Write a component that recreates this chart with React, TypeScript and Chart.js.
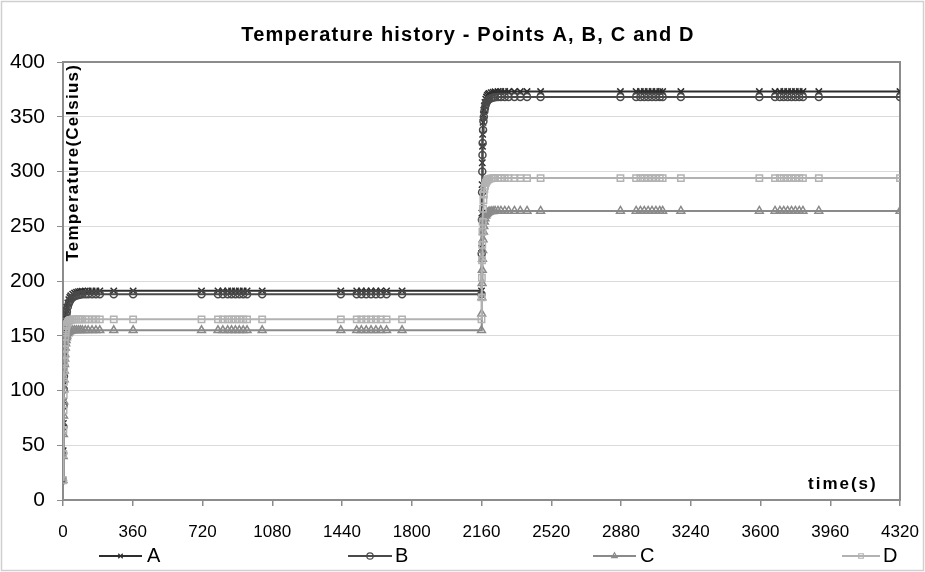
import { useEffect, useRef } from 'react';
import { Chart, registerables } from 'chart.js';
import { drawPoint } from 'chart.js/helpers';

Chart.register(...registerables);

const FONT = '"Liberation Sans", Arial, sans-serif';

const chartTitle = 'Temperature history - Points A, B, C and D';
const yTitle = 'Temperature(Celsius)';
const xTitle = 'time(s)';
const seriesNames = ['A', 'B', 'C', 'D'];

// time (s)
const time = [
  0, 1, 2, 3, 4, 5, 6, 7, 8, 9, 10,
  12, 14, 16, 18, 20,
  25, 30, 35, 40,
  50, 60, 70, 80, 90, 100,
  115, 130, 150, 170, 190,
  262, 362,
  715, 800, 825, 850, 870, 890, 910, 930, 950, 1028,
  1434, 1516, 1540, 1565, 1590, 1615, 1640, 1670, 1750,
  2160,
  2161, 2162, 2163, 2164, 2165, 2166,
  2168, 2170, 2172, 2175, 2178, 2182, 2186, 2190, 2195, 2200,
  2210, 2220, 2230, 2245, 2260, 2280, 2300, 2330, 2360, 2395, 2465,
  2877, 2958, 2980, 3000, 3020, 3040, 3060, 3080, 3095, 3189,
  3594, 3675, 3700, 3720, 3740, 3760, 3780, 3800, 3819, 3901, 4320,
];

const seriesA = [
  18, 45, 70, 90, 105, 117, 127, 135, 142, 148, 153,
  160, 166, 170, 173, 176,
  180, 183, 185, 186.5,
  188, 189, 189.7, 190.2, 190.5, 190.7,
  190.8, 190.9, 191, 191, 191,
  191, 191,
  191, 191, 191, 191, 191, 191, 191, 191, 191, 191,
  191, 191, 191, 191, 191, 191, 191, 191, 191,
  191,
  230, 262, 288, 308, 323, 334,
  345, 352, 356, 360, 363, 366, 368, 369.5, 370.5, 371.3,
  372, 372.5, 372.8, 373, 373, 373, 373, 373, 373, 373, 373,
  373, 373, 373, 373, 373, 373, 373, 373, 373, 373,
  373, 373, 373, 373, 373, 373, 373, 373, 373, 373, 373,
];

const seriesB = [
  18, 43, 67, 86, 101, 113, 123, 131, 138, 144, 149,
  156, 162, 166, 169, 172,
  176.5, 179.5, 181.5, 183,
  185, 186, 186.8, 187.3, 187.6, 187.8,
  187.9, 188, 188, 188, 188,
  188, 188,
  188, 188, 188, 188, 188, 188, 188, 188, 188, 188,
  188, 188, 188, 188, 188, 188, 188, 188, 188,
  188,
  225, 256, 281, 300, 315, 326,
  338, 346, 350, 355, 358, 361, 363, 364.5, 365.5, 366.3,
  367, 367.5, 367.8, 368, 368, 368, 368, 368, 368, 368, 368,
  368, 368, 368, 368, 368, 368, 368, 368, 368, 368,
  368, 368, 368, 368, 368, 368, 368, 368, 368, 368, 368,
];

const seriesC = [
  18, 40, 60, 77, 90, 101, 110, 118, 124, 129, 133,
  139, 143, 146, 148.5, 150,
  152, 153.2, 154, 154.4,
  154.8, 155, 155, 155, 155, 155,
  155, 155, 155, 155, 155,
  155, 155,
  155, 155, 155, 155, 155, 155, 155, 155, 155, 155,
  155, 155, 155, 155, 155, 155, 155, 155, 155,
  155,
  170, 185, 198, 210, 220, 228,
  238, 245, 250, 254, 257, 259.5, 261, 262, 262.8, 263.3,
  263.6, 263.8, 264, 264, 264, 264, 264, 264, 264, 264, 264,
  264, 264, 264, 264, 264, 264, 264, 264, 264, 264,
  264, 264, 264, 264, 264, 264, 264, 264, 264, 264, 264,
];

const seriesD = [
  18, 42, 64, 82, 96, 108, 118, 126, 133, 138, 143,
  149, 153, 156.5, 159, 160.5,
  162.5, 163.6, 164.2, 164.5,
  164.8, 165, 165, 165, 165, 165,
  165, 165, 165, 165, 165,
  165, 165,
  165, 165, 165, 165, 165, 165, 165, 165, 165, 165,
  165, 165, 165, 165, 165, 165, 165, 165, 165,
  165,
  185, 203, 219, 233, 245, 254,
  266, 274, 279, 284, 287, 289.5, 291, 292, 292.8, 293.3,
  293.7, 293.9, 294, 294, 294, 294, 294, 294, 294, 294, 294,
  294, 294, 294, 294, 294, 294, 294, 294, 294, 294,
  294, 294, 294, 294, 294, 294, 294, 294, 294, 294, 294,
];

const xMin = 0;
const xMax = 4320;
const xStep = 360;
const yMin = 0;
const yMax = 400;
const yStep = 50;

const colors = ['#2e2e2e', '#4a4a4a', '#8a8a8a', '#b2b2b2'];
const styles = ['crossRot', 'circle', 'triangle', 'rect'];
const radii = [4.5, 3.5, 4.5, 4.5];
const legendPos = [
  { x1: 99, x2: 142, t: 147 },
  { x1: 348, x2: 392, t: 395 },
  { x1: 593, x2: 636, t: 640 },
  { x1: 842, x2: 880, t: 883 },
];

export default function App() {
  const ref = useRef<HTMLCanvasElement>(null);
  useEffect(() => {
    document.body.style.margin = '0';
    const canvas = ref.current!;
    const allSeries = [seriesA, seriesB, seriesC, seriesD];

    const datasets = allSeries.map((vals, k) => ({
      label: seriesNames[k],
      data: time.map((t, i) => ({ x: t, y: vals[i] })),
      borderColor: colors[k],
      backgroundColor: 'rgba(0,0,0,0)',
      borderWidth: 2,
      pointStyle: styles[k],
      pointRadius: radii[k],
      pointBorderColor: colors[k],
      pointBackgroundColor: 'rgba(0,0,0,0)',
      pointBorderWidth: 1.5,
      tension: 0,
      order: 4 - k,
    }));

    const decor = {
      id: 'decor',
      beforeDraw(chart: any) {
        const c = chart.ctx;
        c.save();
        c.fillStyle = '#ffffff';
        c.fillRect(0, 0, chart.width, chart.height);
        c.restore();
      },
      beforeDatasetsDraw(chart: any) {
        const c = chart.ctx;
        const a = chart.chartArea;
        c.save();
        c.strokeStyle = '#8c8c8c';
        c.lineWidth = 2;
        c.strokeRect(a.left, a.top, a.right - a.left, a.bottom - a.top);
        c.restore();
      },
      afterDraw(chart: any) {
        const c = chart.ctx;
        const a = chart.chartArea;
        c.save();
        // outer frame
        c.strokeStyle = '#d0d0d0';
        c.lineWidth = 1.5;
        c.strokeRect(1.5, 1.5, chart.width - 3, chart.height - 3);
        // title
        c.fillStyle = '#000';
        c.font = `bold 20px ${FONT}`;
        (c as any).letterSpacing = '1.2px';
        c.textAlign = 'center';
        c.textBaseline = 'middle';
        c.fillText(chartTitle, 468, 35);
        // y title
        c.save();
        c.translate(a.left + 10, a.top + 2);
        c.rotate(-Math.PI / 2);
        c.font = `bold 17px ${FONT}`;
        (c as any).letterSpacing = '1.2px';
        c.textAlign = 'right';
        c.textBaseline = 'middle';
        c.fillText(yTitle, 0, 0);
        c.restore();
        // x title
        c.font = `bold 17px ${FONT}`;
        (c as any).letterSpacing = '2px';
        c.textAlign = 'left';
        c.textBaseline = 'middle';
        c.fillText(xTitle, 808, 484);
        (c as any).letterSpacing = '0px';
        // legend
        const ly = 556;
        c.font = `20px ${FONT}`;
        legendPos.forEach((p, k) => {
          c.strokeStyle = colors[k];
          c.lineWidth = 2;
          c.beginPath();
          c.moveTo(p.x1, ly);
          c.lineTo(p.x2, ly);
          c.stroke();
          c.fillStyle = 'rgba(0,0,0,0)';
          c.strokeStyle = colors[k];
          c.lineWidth = 1.2;
          drawPoint(c, { pointStyle: styles[k], radius: 3.2, rotation: 0, borderWidth: 1.2 } as any, (p.x1 + p.x2) / 2, ly);
          c.fillStyle = '#000';
          c.textAlign = 'left';
          c.textBaseline = 'middle';
          c.fillText(seriesNames[k], p.t, ly);
        });
        c.restore();
      },
    };

    const chart = new Chart(canvas, {
      type: 'line',
      data: { datasets } as any,
      options: {
        responsive: false,
        animation: false,
        devicePixelRatio: 1,
        layout: { padding: { top: 62, right: 25, bottom: 0, left: 0 } },
        plugins: {
          legend: { display: false },
          title: { display: false },
          tooltip: { enabled: false },
        },
        scales: {
          x: {
            type: 'linear',
            min: xMin,
            max: xMax,
            afterFit: (s: any) => { s.height = 72; s.paddingRight = 0; s.paddingLeft = 0; },
            afterBuildTicks: (s: any) => {
              const ticks = [];
              for (let v = xMin; v <= xMax; v += xStep) ticks.push({ value: v });
              s.ticks = ticks;
            },
            ticks: {
              autoSkip: false,
              maxRotation: 0,
              padding: 16,
              color: '#000',
              font: { family: FONT, size: 17 },
              callback: (v: any) => String(v),
            },
            grid: { drawOnChartArea: false, drawTicks: true, tickLength: 6, color: '#8c8c8c', lineWidth: 1.5 },
            border: { color: '#8c8c8c', width: 2 },
          },
          y: {
            type: 'linear',
            min: yMin,
            max: yMax,
            afterFit: (s: any) => { s.width = 63; s.paddingTop = 0; s.paddingBottom = 0; },
            ticks: {
              stepSize: yStep,
              padding: 12,
              color: '#000',
              font: { family: FONT, size: 21 },
              callback: (v: any) => String(v),
            },
            grid: { color: '#dadada', lineWidth: 1, tickLength: 6, tickColor: '#8c8c8c' },
            border: { color: '#8c8c8c', width: 2 },
          },
        },
      },
      plugins: [decor],
    } as any);
    return () => chart.destroy();
  }, []);
  return (
    <div style={{ width: 925, height: 572 }}>
      <canvas ref={ref} width={925} height={572} style={{ display: 'block' }} />
    </div>
  );
}
